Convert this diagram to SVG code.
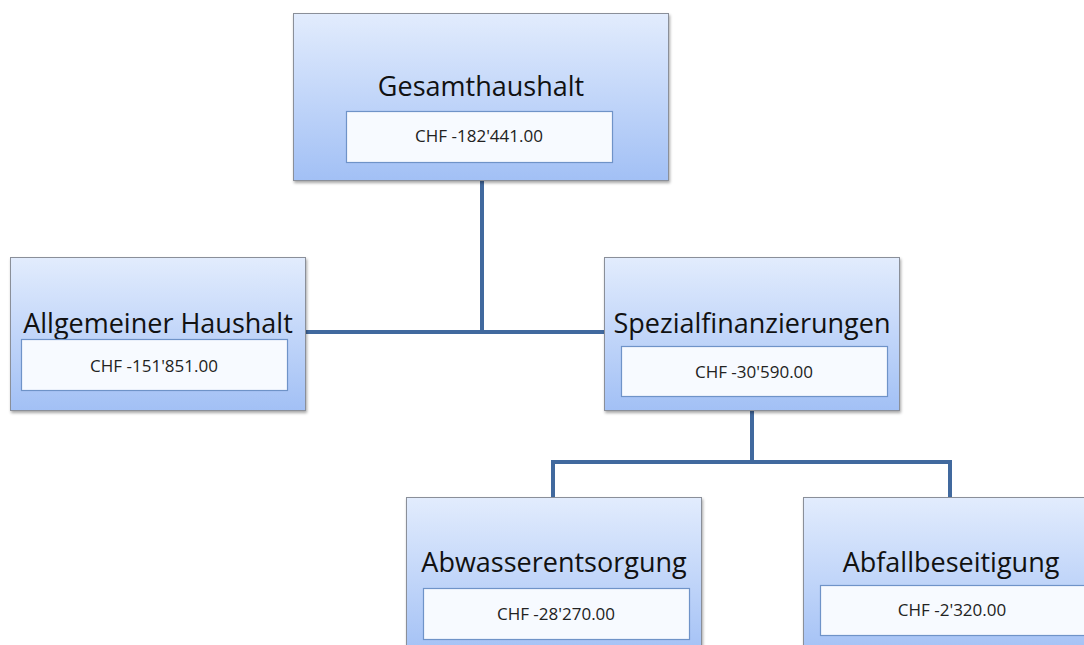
<svg xmlns="http://www.w3.org/2000/svg" width="1084" height="645" viewBox="0 0 1084 645">
<defs>
<linearGradient id="g" x1="0" y1="0" x2="0" y2="1">
<stop offset="0" stop-color="#e2ecfd"/>
<stop offset="1" stop-color="#a2c0f5"/>
</linearGradient>
<filter id="sh" x="-5%" y="-5%" width="110%" height="115%">
<feDropShadow dx="1" dy="2" stdDeviation="1.5" flood-color="#000" flood-opacity="0.35"/>
</filter>
</defs>
<style>
.box{fill:url(#g);stroke:#8a8f99;stroke-width:1;filter:url(#sh)}
.inner{fill:#f7faff;stroke:#6f93c8;stroke-width:1.2}
.t{font-family:"Open Sans","Noto Sans",sans-serif;font-size:27px;fill:#111;text-anchor:middle}
.v{font-family:"Open Sans","Noto Sans",sans-serif;font-size:17px;fill:#222;text-anchor:middle}
.c{fill:none;stroke:#41699e;stroke-width:4}
</style>
<g id="connectors">
<path class="c" d="M482 180V332M305 332H604"/>
<path class="c" d="M752 410V462M553 497V462H950V497"/>
</g>
<g id="gesamt">
<rect class="box" x="293.5" y="13.5" width="375" height="167"/>
<text class="t" x="481" y="96">Gesamthaushalt</text>
<rect class="inner" x="346.5" y="111.5" width="266" height="51"/>
<text class="v" x="479" y="142">CHF -182'441.00</text>
</g>
<g id="allgemein">
<rect class="box" x="10.5" y="257.5" width="295" height="153"/>
<text class="t" x="158" y="333">Allgemeiner Haushalt</text>
<rect class="inner" x="21.5" y="339.5" width="266" height="51"/>
<text class="v" x="154" y="372">CHF -151'851.00</text>
</g>
<g id="spezial">
<rect class="box" x="604.5" y="257.5" width="295" height="153"/>
<text class="t" x="752" y="333">Spezialfinanzierungen</text>
<rect class="inner" x="621.5" y="346.5" width="266" height="50"/>
<text class="v" x="754" y="378">CHF -30'590.00</text>
</g>
<g id="abwasser">
<rect class="box" x="406.5" y="497.5" width="295" height="160"/>
<text class="t" x="554" y="572">Abwasserentsorgung</text>
<rect class="inner" x="423.5" y="588.5" width="266" height="51"/>
<text class="v" x="556" y="620">CHF -28'270.00</text>
</g>
<g id="abfall">
<rect class="box" x="803.5" y="497.5" width="295" height="160"/>
<text class="t" x="951" y="572">Abfallbeseitigung</text>
<rect class="inner" x="820.5" y="585.5" width="266" height="50"/>
<text class="v" x="952" y="616">CHF -2'320.00</text>
</g>
</svg>
